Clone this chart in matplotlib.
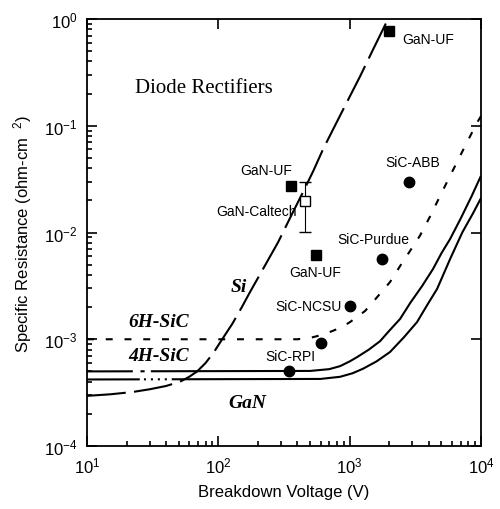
import matplotlib
matplotlib.use("Agg")
import matplotlib.pyplot as plt

plt.rcParams['font.family'] = ['Liberation Sans', 'DejaVu Sans']
plt.rcParams['mathtext.fontset'] = 'custom'
plt.rcParams['mathtext.rm'] = 'Liberation Sans'
plt.rcParams['mathtext.it'] = 'Liberation Sans:italic'
plt.rcParams['mathtext.bf'] = 'Liberation Sans:bold'
plt.rcParams['lines.scale_dashes'] = False

# theory curves
si_v = [10, 15, 22, 30, 40, 51, 60, 69, 80, 92, 107, 128, 151, 174, 220, 285, 360, 442, 530, 630, 900, 1200, 1510, 1960]
si_r = [2.95e-4, 3.05e-4, 3.2e-4, 3.4e-4, 3.65e-4, 4.0e-4, 4.45e-4, 5.0e-4, 6.0e-4, 7.5e-4, 1.0e-3, 1.4e-3,
        2.0e-3, 2.76e-3, 4.6e-3, 8.1e-3, 0.0145, 0.024, 0.038, 0.061, 0.145, 0.29, 0.52, 1.0]

h6_v = [10, 400, 500, 617, 746, 880, 1007, 1310, 1645, 2030, 2420, 2900, 3440, 4090, 4880, 5820, 7180, 8400, 9510, 10000]
h6_r = [1e-3, 1e-3, 1.03e-3, 1.1e-3, 1.2e-3, 1.31e-3, 1.45e-3, 1.84e-3, 2.54e-3, 3.44e-3, 4.85e-3, 6.8e-3,
        9.4e-3, 0.0141, 0.022, 0.034, 0.0568, 0.083, 0.111, 0.123]

h4_v = [10, 500, 700, 845, 1000, 1138, 1400, 1705, 2000, 2420, 2900, 3560, 4310, 5000, 5820, 7000, 8500, 10000]
h4_r = [5e-4, 5.05e-4, 5.25e-4, 5.6e-4, 6.2e-4, 6.8e-4, 8.0e-4, 9.6e-4, 1.2e-3, 1.55e-3, 2.2e-3, 3.15e-3,
        4.55e-3, 6.4e-3, 8.7e-3, 0.0135, 0.022, 0.034]

gan_v = [10, 600, 845, 1050, 1265, 1600, 2030, 2600, 3260, 3900, 4630, 5820, 7200, 8710, 10000]
gan_r = [4.2e-4, 4.25e-4, 4.45e-4, 4.8e-4, 5.3e-4, 6.2e-4, 7.6e-4, 1.05e-3, 1.45e-3, 2.1e-3, 2.96e-3,
         5.65e-3, 0.0100, 0.0152, 0.021]

# measured devices
ganuf_v = [1995, 357, 555]
ganuf_r = [0.77, 0.0273, 6.1e-3]
cal_v = [457]
cal_r = [0.0197]
cal_lo = [0.0101]
cal_hi = [0.0297]
sic_v = [2830, 1766, 1007, 606, 345]
sic_r = [0.0297, 5.65e-3, 2.05e-3, 9.2e-4, 5.04e-4]

fig = plt.figure(figsize=(5, 5.1), dpi=100)
ax = fig.add_axes([0.174, 0.1235, 0.788, 0.8373])

ax.plot(si_v, si_r, color='k', lw=1.5, linestyle=(0, (28, 6)))
ax.plot(h6_v, h6_r, color='k', lw=1.5, linestyle=(0, (5, 8.5)))
ax.plot(h4_v, h4_r, color='k', lw=1.5, linestyle=(0, (33, 5.5, 3, 4.5, 5000, 1)))
ax.plot(gan_v, gan_r, color='k', lw=1.5,
        linestyle=(0, (38, 3, 1.5, 3.5, 1.5, 3.5, 1.5, 3.5, 1.5, 3.5, 5000, 1)))

ax.plot(ganuf_v, ganuf_r, 's', color='k', ms=7, zorder=4)
err = [[c - l for c, l in zip(cal_r, cal_lo)], [h - c for c, h in zip(cal_r, cal_hi)]]
ax.errorbar(cal_v, cal_r, yerr=err, fmt='none', ecolor='k', elinewidth=0.8, capsize=4, zorder=3)
ax.plot(cal_v, cal_r, 's', mfc='white', mec='k', mew=1, ms=7, zorder=5)
ax.plot(sic_v, sic_r, 'o', color='k', ms=7.5, zorder=4)

serif = 'Liberation Serif'
ax.text(23.2, 0.23, 'Diode Rectifiers', family=serif, fontsize=15, va='center')
ax.text(20.5, 1.48e-3, '6H-SiC', family=serif, fontsize=14, weight='bold', style='italic', va='center')
ax.text(20.5, 6.97e-4, '4H-SiC', family=serif, fontsize=14, weight='bold', style='italic', va='center')
ax.text(123, 3.15e-3, 'Si', family=serif, fontsize=14, weight='bold', style='italic', va='center')
ax.text(118.6, 2.58e-4, 'GaN', family=serif, fontsize=14, weight='bold', style='italic', va='center')

labels = [(2505, 0.65, 'GaN-UF'), (146, 0.0385, 'GaN-UF'), (96, 0.0159, 'GaN-Caltech'),
          (345, 4.27e-3, 'GaN-UF'), (1862, 0.0457, 'SiC-ABB'), (802, 8.7e-3, 'SiC-Purdue'),
          (270, 2.05e-3, 'SiC-NCSU'), (227, 6.97e-4, 'SiC-RPI')]
for x, y, s in labels:
    ax.text(x, y, s, fontsize=10, va='center')

ax.set_xscale('log')
ax.set_yscale('log')
ax.set_xlim(10, 1e4)
ax.set_ylim(1e-4, 1)
ax.set_xlabel('Breakdown Voltage (V)', fontsize=12, labelpad=6)
ax.set_ylabel('Specific Resistance (ohm-cm  $^{2}$)', fontsize=12, labelpad=7)

ax.tick_params(which='both', direction='in', top=True, right=True, labelsize=12, pad=7, width=1.2)
ax.tick_params(which='major', length=7)
ax.tick_params(which='minor', length=3.5, top=False, right=False)
for sp in ax.spines.values():
    sp.set_linewidth(1.3)

fig.savefig('out.png', dpi=100)
